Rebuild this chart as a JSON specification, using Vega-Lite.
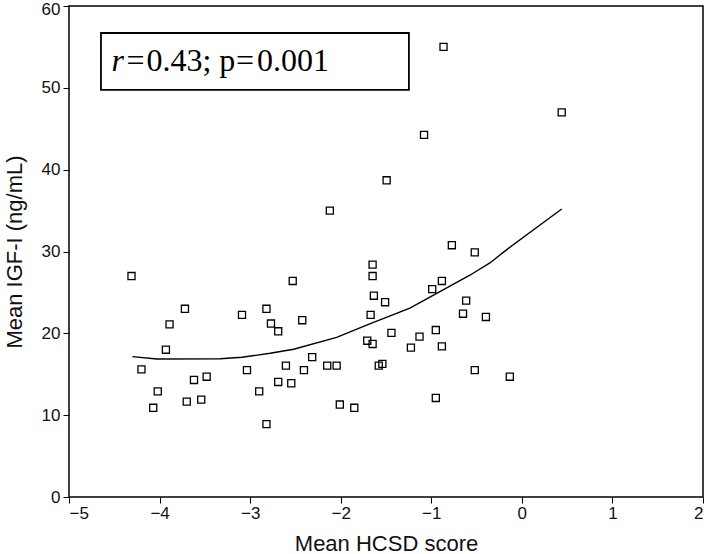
{
  "$schema": "https://vega.github.io/schema/vega-lite/v6.json",
  "width": 634,
  "height": 491,
  "autosize": {"type": "none"},
  "padding": {"left": 69, "top": 6, "right": 6, "bottom": 57},
  "background": "white",
  "config": {
    "view": {"stroke": "black", "strokeWidth": 1.5},
    "axis": {
      "domain": false,
      "grid": false,
      "ticks": true,
      "tickColor": "black",
      "tickWidth": 1,
      "tickSize": 6,
      "labelFont": "Liberation Sans",
      "labelFontSize": 17,
      "labelColor": "#111",
      "titleFont": "Liberation Sans",
      "titleFontSize": 22,
      "titleFontWeight": "normal",
      "titleColor": "#111"
    },
    "text": {"font": "Liberation Serif", "fontSize": 32, "align": "left", "baseline": "alphabetic", "color": "black"}
  },
  "datasets": {
    "points": [
      {"hcsd": -4.31, "igf": 27.0},
      {"hcsd": -3.72, "igf": 23.0},
      {"hcsd": -3.89, "igf": 21.1},
      {"hcsd": -3.93, "igf": 18.0},
      {"hcsd": -4.20, "igf": 15.6},
      {"hcsd": -4.02, "igf": 12.9},
      {"hcsd": -4.07, "igf": 10.9},
      {"hcsd": -3.62, "igf": 14.3},
      {"hcsd": -3.48, "igf": 14.7},
      {"hcsd": -3.70, "igf": 11.65},
      {"hcsd": -3.54, "igf": 11.9},
      {"hcsd": -3.09, "igf": 22.25},
      {"hcsd": -2.82, "igf": 23.0},
      {"hcsd": -2.77, "igf": 21.2},
      {"hcsd": -2.69, "igf": 20.25},
      {"hcsd": -3.035, "igf": 15.5},
      {"hcsd": -2.90, "igf": 12.9},
      {"hcsd": -2.82, "igf": 8.9},
      {"hcsd": -2.69, "igf": 14.06},
      {"hcsd": -2.53, "igf": 26.4},
      {"hcsd": -2.425, "igf": 21.6},
      {"hcsd": -2.605, "igf": 16.05},
      {"hcsd": -2.546, "igf": 13.9},
      {"hcsd": -2.406, "igf": 15.5},
      {"hcsd": -2.315, "igf": 17.1},
      {"hcsd": -2.149, "igf": 16.05},
      {"hcsd": -2.045, "igf": 16.05},
      {"hcsd": -2.01, "igf": 11.3},
      {"hcsd": -1.85, "igf": 10.9},
      {"hcsd": -1.648, "igf": 28.4},
      {"hcsd": -1.648, "igf": 27.0},
      {"hcsd": -1.634, "igf": 24.6},
      {"hcsd": -1.51, "igf": 23.8},
      {"hcsd": -1.67, "igf": 22.25},
      {"hcsd": -1.707, "igf": 19.1},
      {"hcsd": -1.648, "igf": 18.7},
      {"hcsd": -1.58, "igf": 16.05},
      {"hcsd": -1.54, "igf": 16.26},
      {"hcsd": -1.44, "igf": 20.05},
      {"hcsd": -1.225, "igf": 18.25},
      {"hcsd": -1.13, "igf": 19.6},
      {"hcsd": -0.99, "igf": 25.4},
      {"hcsd": -0.883, "igf": 26.4},
      {"hcsd": -0.95, "igf": 20.4},
      {"hcsd": -0.883, "igf": 18.4},
      {"hcsd": -0.95, "igf": 12.1},
      {"hcsd": -0.615, "igf": 24.0},
      {"hcsd": -0.65, "igf": 22.4},
      {"hcsd": -0.52, "igf": 15.5},
      {"hcsd": -0.52, "igf": 29.9},
      {"hcsd": -0.397, "igf": 22.0},
      {"hcsd": -0.133, "igf": 14.7},
      {"hcsd": 0.44, "igf": 47.0},
      {"hcsd": -0.865, "igf": 55.0},
      {"hcsd": -1.08, "igf": 44.25},
      {"hcsd": -1.493, "igf": 38.7},
      {"hcsd": -2.12, "igf": 35.0},
      {"hcsd": -0.773, "igf": 30.77}
    ],
    "fit": [
      {"hcsd": -4.30, "igf": 17.15},
      {"hcsd": -4.03, "igf": 16.87},
      {"hcsd": -3.33, "igf": 16.9},
      {"hcsd": -3.09, "igf": 17.07},
      {"hcsd": -2.78, "igf": 17.56},
      {"hcsd": -2.52, "igf": 18.05},
      {"hcsd": -2.045, "igf": 19.5},
      {"hcsd": -1.68, "igf": 21.15},
      {"hcsd": -1.236, "igf": 23.07},
      {"hcsd": -0.87, "igf": 25.3},
      {"hcsd": -0.574, "igf": 27.1},
      {"hcsd": -0.353, "igf": 28.6},
      {"hcsd": -0.17, "igf": 30.2},
      {"hcsd": 0.44, "igf": 35.2}
    ]
  },
  "layer": [
    {
      "data": {"name": "fit"},
      "mark": {"type": "line", "color": "black", "strokeWidth": 1.4},
      "encoding": {
        "x": {"field": "hcsd", "type": "quantitative",
              "scale": {"domain": [-5, 2], "nice": false, "zero": false},
              "axis": {"values": [-5, -4, -3, -2, -1, 0, 1, 2], "format": "d", "title": "Mean HCSD score", "labelPadding": 2, "titlePadding": 12}},
        "y": {"field": "igf", "type": "quantitative",
              "scale": {"domain": [0, 60], "nice": false},
              "axis": {"values": [0, 10, 20, 30, 40, 50, 60], "format": "d", "title": "Mean IGF-I (ng/mL)", "labelPadding": 3, "titlePadding": 15,
                       "labelOffset": {"condition": {"test": "datum.value == 60", "value": 3}, "value": 0}}}
      }
    },
    {
      "data": {"name": "points"},
      "mark": {"type": "point", "shape": "square", "filled": false, "color": "black", "size": 50, "strokeWidth": 1.3, "opacity": 1},
      "encoding": {
        "x": {"field": "hcsd", "type": "quantitative"},
        "y": {"field": "igf", "type": "quantitative"}
      }
    },
    {
      "data": {"values": [{"label": "box"}]},
      "mark": {"type": "rect", "fill": "white", "stroke": "black", "strokeWidth": 1.8},
      "encoding": {
        "x": {"datum": -4.647},
        "x2": {"datum": -1.247},
        "y": {"datum": 56.7},
        "y2": {"datum": 49.75}
      }
    },
    {
      "data": {"values": [{"label": "r"}]},
      "mark": {"type": "text", "fontStyle": "italic"},
      "encoding": {"x": {"datum": -4.53}, "y": {"datum": 52}, "text": {"field": "label"}}
    },
    {
      "data": {"values": [{"label": "="}]},
      "mark": {"type": "text"},
      "encoding": {"x": {"datum": -4.365}, "y": {"datum": 52}, "text": {"field": "label"}}
    },
    {
      "data": {"values": [{"label": "0.43; p"}]},
      "mark": {"type": "text"},
      "encoding": {"x": {"datum": -4.145}, "y": {"datum": 52}, "text": {"field": "label"}}
    },
    {
      "data": {"values": [{"label": "="}]},
      "mark": {"type": "text"},
      "encoding": {"x": {"datum": -3.155}, "y": {"datum": 52}, "text": {"field": "label"}}
    },
    {
      "data": {"values": [{"label": "0.001"}]},
      "mark": {"type": "text"},
      "encoding": {"x": {"datum": -2.925}, "y": {"datum": 52}, "text": {"field": "label"}}
    }
  ]
}
